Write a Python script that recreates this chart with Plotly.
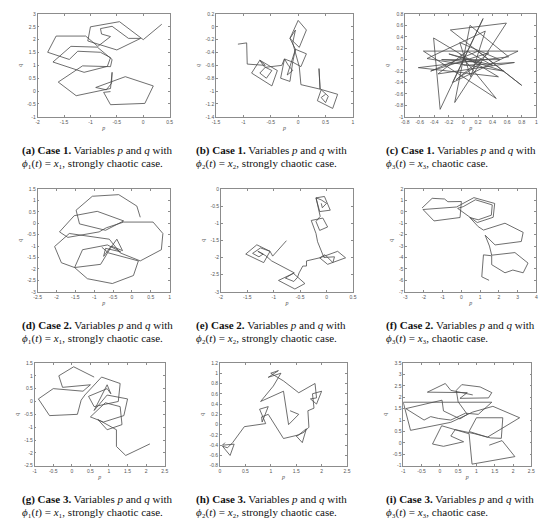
import plotly.graph_objects as go

W, H = 550, 525
COR_LINHA = "#4a4a4a"
COR_EIXO = "#8c8c8c"
COR_TICK = "#555555"

# trajectories (p, q)
traj_a = [(0.35, 2.6), (0.0, 2.0), (-0.45, 2.7), (-1.0, 2.5), (-1.05, 1.95), (-0.5, 1.6),
          (-0.05, 2.05), (-0.28, 2.05), (-0.59, 2.52), (-0.81, 2.43), (-0.79, 2.22),
          (-0.62, 2.12), (-0.86, 1.74), (-1.09, 2.14), (-1.65, 2.14), (-1.81, 1.51),
          (-1.4, 1.23), (-1.24, 1.55), (-0.81, 1.51), (-0.62, 1.3), (-0.68, 0.96),
          (-1.12, 0.73), (-1.71, 1.13), (-1.37, 1.74), (-0.87, 1.71), (-0.59, 1.23),
          (-0.62, 0.95), (-1.15, 0.98), (-1.61, 0.35), (-1.27, -0.18), (-0.62, 0.1),
          (-0.59, 0.73), (-0.6, 0.3), (-0.7, 0.05), (-0.9, 0.14), (-0.34, 0.56),
          (0.19, 0.2), (0.03, -0.48), (-0.62, -0.53), (-0.75, -0.05), (-0.62, -0.02)]

traj_b = [(-1.1, -0.27), (-0.94, -0.25), (-0.93, -0.58), (-0.6, -0.6), (-0.7, -0.52),
          (-0.85, -0.72), (-0.48, -0.92), (-0.38, -0.68), (-0.7, -0.52), (-0.62, -0.62),
          (-0.48, -0.68), (-0.58, -0.8), (-0.7, -0.72), (-0.6, -0.63), (-0.3, -0.6),
          (-0.25, -0.5), (-0.1, -0.55), (-0.15, -0.85), (-0.32, -0.8), (-0.25, -0.5),
          (-0.18, -0.6), (-0.1, -0.68), (-0.2, -0.75), (-0.05, -0.35), (0.15, -0.42),
          (0.05, -0.62), (-0.1, -0.55), (-0.05, -0.35), (-0.15, -0.18), (0.0, 0.1),
          (0.15, -0.05), (0.02, -0.32), (-0.15, -0.18), (-0.05, -0.05), (-0.1, -0.25),
          (0.02, -0.62), (0.05, -0.9), (0.4, -0.97), (0.38, -0.65), (0.4, -0.97),
          (0.72, -1.05), (0.63, -1.27), (0.35, -1.15), (0.42, -0.98), (0.55, -1.08),
          (0.5, -1.18), (0.42, -1.1), (0.5, -1.05)]

traj_c = [(-0.05, 0.1), (0.45, -0.68), (-0.55, 0.15), (0.75, 0.15), (-0.15, -0.4),
          (0.27, 0.72), (-0.32, -0.87), (-0.41, 0.38), (0.48, -0.3), (-0.62, -0.14),
          (0.62, 0.05), (0.09, 0.6), (-0.12, -0.75), (0.59, 0.64), (-0.18, 0.52),
          (0.8, -0.45), (0.2, 0.15), (-0.45, -0.2), (0.35, 0.12), (-0.1, -0.35),
          (0.25, -0.05), (-0.3, 0.0), (0.5, 0.0), (-0.05, 0.3), (0.1, -0.3), (0.3, 0.5),
          (-0.5, 0.02), (0.55, -0.2), (-0.2, 0.1), (0.4, -0.1), (0.05, 0.15),
          (-0.35, -0.25), (0.7, -0.05), (0.0, -0.1)]

traj_d = [(0.22, 0.26), (0.13, 0.75), (-0.35, 1.25), (-1.05, 1.18), (-1.48, 0.57),
          (-1.39, -0.03), (-0.7, -0.31), (-0.22, 0.1), (-0.92, 0.52), (-1.53, 0.33),
          (-1.92, -0.38), (-1.7, -0.62), (-0.87, -0.38), (-0.68, -0.2), (-0.22, 0.05),
          (0.56, 0.05), (0.82, -0.45), (0.78, -1.16), (0.22, -1.65), (-0.31, -1.3),
          (-0.6, -0.7), (-1.66, -0.45), (-2.05, -1.02), (-1.87, -1.73), (-1.52, -1.94),
          (-0.83, -1.8), (-0.57, -1.09), (-0.4, -0.7), (-0.25, -1.2), (-0.55, -1.0),
          (-0.75, -1.45), (-0.7, -1.1), (-0.3, -1.25), (-0.65, -0.95), (-1.31, -1.16),
          (-1.52, -1.94), (-1.18, -2.43), (-0.52, -2.64), (0.04, -2.29), (0.17, -1.65),
          (-0.62, -1.3), (-0.8, -1.05)]

traj_e = [(-0.76, -1.51), (-1.02, -1.96), (-1.07, -1.82), (-1.32, -1.63), (-1.53, -1.9),
          (-1.19, -2.15), (-1.07, -1.82), (-1.25, -1.72), (-1.4, -1.88), (-1.28, -1.98),
          (-1.2, -1.9), (-1.3, -1.82), (-1.15, -1.95), (-1.04, -2.1), (-0.61, -2.45),
          (-0.91, -2.67), (-0.6, -2.92), (-0.41, -2.76), (-0.63, -2.46), (-0.78, -2.6),
          (-0.62, -2.7), (-0.55, -2.58), (-0.52, -2.45), (-0.45, -2.25), (-0.38, -2.25),
          (-0.38, -2.1), (-0.13, -2.01), (0.21, -1.82), (0.36, -2.01), (0.02, -2.2),
          (-0.13, -2.01), (-0.03, -1.92), (0.12, -2.15), (0.15, -1.98), (-0.05, -2.0),
          (-0.17, -1.54), (-0.2, -1.3), (-0.29, -0.92), (-0.07, -0.85), (0.02, -1.11),
          (-0.13, -1.21), (-0.2, -0.95), (-0.12, -0.8), (-0.2, -0.26), (-0.04, -0.22),
          (0.07, -0.62), (-0.13, -0.66), (-0.2, -0.26), (-0.1, -0.32), (0.0, -0.42),
          (-0.08, -0.55), (-0.1, -0.42)]

traj_f = [(-2.1, 0.33), (-1.56, 1.18), (-0.9, 1.12), (-0.72, 0.88), (0.0, 0.9),
          (-0.07, -0.5), (-1.46, -0.8), (-2.05, 0.2), (-0.26, 0.42), (0.67, 1.24),
          (1.78, 0.73), (1.7, -0.48), (0.85, -0.94), (-0.2, 0.3), (0.1, 0.45),
          (0.75, 1.05), (1.65, 0.6), (1.6, -0.3), (0.9, -0.7), (0.45, -0.5),
          (0.9, -1.3), (1.18, -1.6), (2.33, -1.0), (3.3, -1.8), (3.2, -2.6),
          (1.8, -2.9), (1.27, -2.05), (1.5, -3.0), (1.62, -3.8), (2.86, -3.57),
          (3.56, -4.49), (3.3, -5.34), (2.75, -5.1), (2.33, -5.34), (1.62, -4.63),
          (1.62, -3.85), (1.18, -3.77), (1.09, -5.69), (1.48, -6.0)]

traj_g = [(0.6, 0.95), (0.05, 1.35), (-0.35, 1.0), (-0.25, 0.55), (0.5, 0.65), (0.3, 0.4),
          (-0.5, 0.5), (-0.9, 0.1), (-0.6, -0.55), (0.15, -0.5), (0.25, 0.05), (0.35, 0.25),
          (0.8, 0.95), (1.3, 0.7), (1.25, 0.0), (0.6, -0.2), (0.45, 0.2), (0.95, 0.5),
          (1.05, 0.3), (0.95, 0.65), (0.6, -0.35), (0.95, 0.25), (1.5, 0.1), (1.4, -0.55),
          (0.85, -0.8), (0.5, -0.6), (0.9, -0.05), (1.3, -0.2), (1.35, -0.9), (0.95, -1.1),
          (0.7, -0.7), (1.2, -1.1), (1.2, -1.75), (1.45, -2.1), (2.1, -1.65)]

traj_h = [(0.1, -0.35), (0.05, -0.4), (0.28, -0.38), (0.2, -0.6), (0.05, -0.42),
          (0.15, -0.45), (0.25, -0.35), (0.48, -0.04), (0.9, 0.02), (0.78, 0.3),
          (0.95, 0.35), (0.83, 0.05), (0.82, 0.15), (0.95, 0.2), (1.25, -0.27),
          (1.55, -0.2), (1.7, -0.08), (1.62, -0.35), (1.5, -0.22), (1.65, -0.15),
          (1.75, -0.05), (1.73, 0.27), (1.85, 0.32), (1.82, 0.6), (2.0, 0.65),
          (1.9, 0.4), (1.78, 0.5), (1.9, 0.52), (1.87, 0.8), (1.55, 0.62), (1.25, 0.85),
          (1.0, 1.0), (1.15, 1.05), (0.95, 0.92), (1.2, 1.0), (1.05, 0.75), (0.8, 0.45),
          (1.25, 0.65), (1.35, 0.0), (1.55, 0.2), (1.38, 0.27)]

traj_i = [(1.35, -0.1), (1.7, 0.1), (2.05, -0.6), (0.88, -0.93), (0.8, 0.4), (0.05, 0.75),
          (-0.2, -0.05), (0.1, -0.15), (0.65, 0.05), (0.3, 0.3), (0.42, 0.58), (0.95, 0.4),
          (1.38, 0.22), (1.68, 0.2), (1.72, 1.1), (1.0, 1.1), (0.8, 0.5), (1.3, 0.25),
          (2.18, 1.1), (1.45, 1.6), (0.9, 1.35), (0.3, 0.9), (-0.8, 0.55), (-1.0, 1.78),
          (1.42, 1.78), (1.05, 1.25), (0.7, 1.3), (0.3, 1.0), (-0.04, 1.07), (-0.25, 1.15),
          (-0.43, 1.0), (-0.93, 1.5), (0.06, 1.87), (0.1, 1.4), (0.55, 1.05), (0.75, 1.25),
          (0.5, 1.8), (0.45, 2.3), (0.6, 2.55), (1.1, 2.45), (1.42, 2.2), (1.33, 1.97),
          (0.55, 1.95), (0.75, 2.2), (-0.34, 2.22), (0.15, 2.6), (0.3, 2.3), (0.9, 2.1)]

# axis ranges and tick steps
x_ranges = {"a": (-2, 0.5, 0.5), "b": (-1.5, 1, 0.5), "c": (-0.8, 1, 0.2),
            "d": (-2.5, 1, 0.5), "e": (-2, 0.5, 0.5), "f": (-3, 4, 1),
            "g": (-1, 2.5, 0.5), "h": (0, 2.5, 0.5), "i": (-1, 2.5, 0.5)}
y_ranges = {"a": (-1, 3, 0.5), "b": (-1.4, 0.2, 0.2), "c": (-1, 0.8, 0.2),
            "d": (-3, 1.5, 0.5), "e": (-3, 0, 0.5), "f": (-7, 2, 1),
            "g": (-2.5, 1.5, 0.5), "h": (-0.8, 1.2, 0.2), "i": (-1, 3.5, 0.5)}

cases = {"a": "1", "b": "1", "c": "1", "d": "2", "e": "2", "f": "2",
         "g": "3", "h": "3", "i": "3"}
phi_idx = {"a": "₁", "b": "₂", "c": "₃", "d": "₁", "e": "₂", "f": "₃",
           "g": "₁", "h": "₂", "i": "₃"}
regime = {"a": "strongly chaotic", "b": "strongly chaotic", "c": "chaotic",
          "d": "strongly chaotic", "e": "strongly chaotic", "f": "chaotic",
          "g": "strongly chaotic", "h": "strongly chaotic", "i": "chaotic"}

trajs = {"a": traj_a, "b": traj_b, "c": traj_c, "d": traj_d, "e": traj_e,
         "f": traj_f, "g": traj_g, "h": traj_h, "i": traj_i}

# panel boxes in pixels: left, right, top, bottom
boxes = {"a": (26, 160, 3, 107), "b": (207, 346, 3, 107), "c": (399, 532, 3, 107),
         "d": (26, 160, 180, 284), "e": (212, 346, 180, 284), "f": (399, 532, 180, 284),
         "g": (23, 155, 356, 460), "h": (211, 340, 356, 460), "i": (397, 527, 356, 460)}
cap_x = {"a": 8, "b": 185, "c": 377, "d": 8, "e": 185, "f": 377,
         "g": 8, "h": 185, "i": 377}


def _fmt(v):
    s = f"{v:.1f}".rstrip("0").rstrip(".")
    return "0" if s in ("-0", "") else s


def _ticks(lo, hi, step):
    n = int(round((hi - lo) / step))
    vals = [round(lo + k * step, 4) for k in range(n + 1)]
    return vals, [_fmt(v) for v in vals]


def _eixo(lo, hi, step, dom, anchor, titulo, standoff):
    vals, texts = _ticks(lo, hi, step)
    return dict(
        domain=dom, anchor=anchor, range=[lo, hi],
        tickmode="array", tickvals=vals, ticktext=texts,
        ticks="inside", ticklen=2, tickwidth=0.5, tickcolor=COR_EIXO,
        showline=True, linecolor=COR_EIXO, linewidth=0.6, mirror="allticks",
        showgrid=False, zeroline=False,
        tickfont=dict(size=5, color=COR_TICK, family="Liberation Sans"),
        title=dict(text=titulo, standoff=standoff,
                   font=dict(size=6, color=COR_TICK, family="Liberation Serif")),
    )


fig = go.Figure()
layout = dict(width=W, height=H, margin=dict(l=0, r=0, t=0, b=0),
              paper_bgcolor="white", plot_bgcolor="white", showlegend=False)
annotations = []

for k, key in enumerate("abcdefghi", start=1):
    sx = "" if k == 1 else str(k)
    pts = trajs[key]
    fig.add_trace(go.Scatter(
        x=[p for p, q in pts], y=[q for p, q in pts], mode="lines",
        line=dict(color=COR_LINHA, width=0.8),
        xaxis="x" + sx, yaxis="y" + sx, hoverinfo="skip",
    ))
    l, r, t, b = boxes[key]
    xdom = [l / W, r / W]
    ydom = [1 - b / H, 1 - t / H]
    layout["xaxis" + sx] = _eixo(*x_ranges[key], xdom, "y" + sx, "<i>p</i>", 2)
    layout["yaxis" + sx] = _eixo(*y_ranges[key], ydom, "x" + sx, "<i>q</i>", 4)

    linha1 = f"<b>({key}) Case {cases[key]}.</b> Variables <i>p</i> and <i>q</i> with"
    linha2 = (f"<i>ϕ</i>{phi_idx[key]}(<i>t</i>) = "
              f"<i>x</i>{phi_idx[key]}, {regime[key]} case.")
    for j, texto in enumerate((linha1, linha2)):
        annotations.append(dict(
            text=texto, xref="paper", yref="paper", x=cap_x[key] / W,
            y=1 - (b + 34 + 13 * j) / H,
            xanchor="left", yanchor="middle", align="left", showarrow=False,
            font=dict(size=11, color="#111111", family="Liberation Serif"),
        ))

layout["annotations"] = annotations
fig.update_layout(**layout)
fig.write_html("out.html")
